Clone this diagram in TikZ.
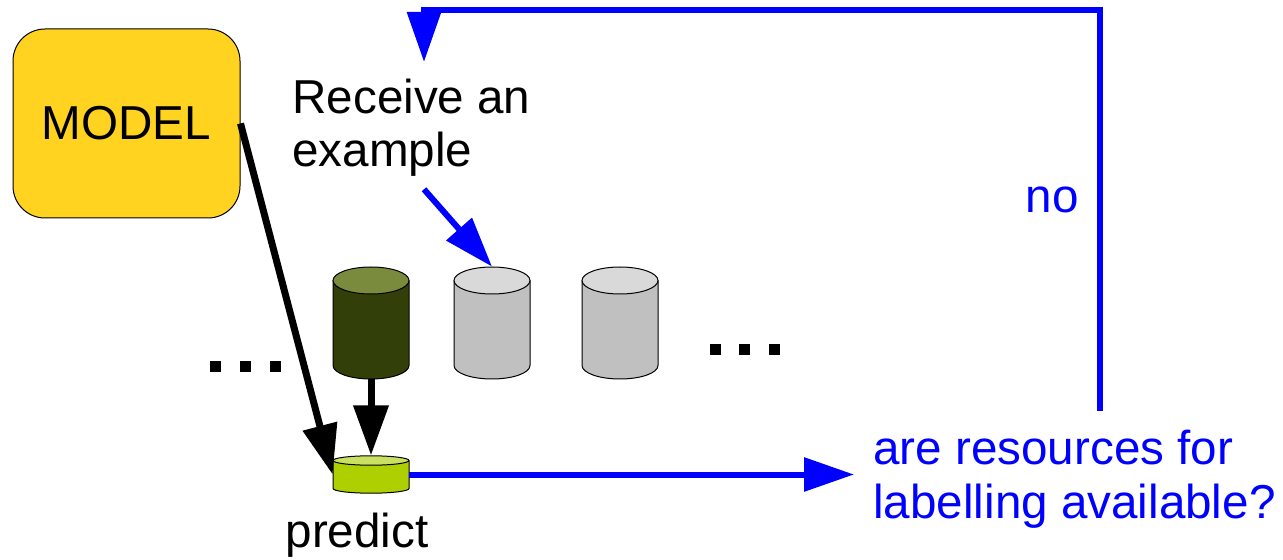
\documentclass[tikz,border=0pt]{standalone}
\usepackage{fontspec}
\setmainfont{Liberation Sans}
\usetikzlibrary{arrows.meta}

\definecolor{modelgold}{HTML}{FFD320}
\definecolor{linkblue}{HTML}{0000FF}
\definecolor{olivebody}{HTML}{333F08}
\definecolor{olivetop}{HTML}{7B8B3D}
\definecolor{greybody}{HTML}{C0C0C0}
\definecolor{greytop}{HTML}{D9D9D9}
\definecolor{limebody}{HTML}{AECF00}
\definecolor{limetop}{HTML}{C9E162}

\newcommand{\labelfont}{\fontsize{23.8}{26.75}\selectfont}

% A data drum: #1 name, #2 centre x, #3 top-ellipse centre y,
% #4 bottom-ellipse centre y, #5 ellipse half-height, #6 body fill, #7 lid fill
\newcommand{\datadrum}[7]{%
  \filldraw[fill=#6, draw=black, line width=0.5pt]
    ({#2-38},#3) -- ({#2-38},#4)
    arc[start angle=180, end angle=360, x radius=19pt, y radius={#5*0.5pt}]
    -- ({#2+38},#3);
  \filldraw[fill=#7, draw=black, line width=0.5pt]
    (#2,#3) ellipse[x radius=19pt, y radius={#5*0.5pt}];
  \node[inner sep=0pt, minimum width=38pt,
        minimum height={(#4-#3+2*#5)*0.5pt}] (#1) at (#2,{(#3+#4)/2}) {};
}

\tikzset{
  modelbox/.style={draw=black, line width=0.5pt, fill=modelgold,
    rounded corners=16pt, minimum width=113.5pt, minimum height=94.5pt,
    inner sep=0pt, font=\labelfont},
  plainlabel/.style={inner sep=0pt, font=\labelfont, align=left},
  bluelabel/.style={plainlabel, text=linkblue},
  flowblack/.style={draw=black, line width=3.5pt,
    -{Triangle[length=25pt, width=17pt]}},
  flowblue/.style={draw=linkblue, line width=3pt,
    -{Triangle[length=25pt, width=16.5pt]}},
  dotmark/.style={fill=black},
}

\begin{document}
\begin{tikzpicture}[x=0.5pt, y=-0.5pt]
  \useasboundingbox (0,0) rectangle (1283,560);

  % model
  \node[modelbox] (model) at (126.5,123.5) {MODEL};

  % stream of examples
  \datadrum{dark}{371}{280.5}{365.5}{13.5}{olivebody}{olivetop}
  \datadrum{grey1}{492}{280.5}{365.5}{13.5}{greybody}{greytop}
  \datadrum{grey2}{620}{280.5}{365.5}{13.5}{greybody}{greytop}
  \datadrum{small}{371}{460.5}{488.5}{4.7}{limebody}{limetop}

  % ellipsis marks on both sides of the stream
  \foreach \x in {210,240,270} \fill[dotmark] (\x,361) rectangle ++(11,11);
  \foreach \x in {710,739,769} \fill[dotmark] (\x,344) rectangle ++(11,11);

  % labels (base anchor sits on the last line)
  \node[plainlabel, anchor=base west, inner xsep=3pt, inner ysep=6pt] (recv)
    at (286,167) {Receive an\\example};
  \node[plainlabel, anchor=base] (pred) at (357,547) {predict};
  \node[bluelabel, anchor=base west, inner sep=9.5pt] (ask) at (854,518)
    {are resources for\\labelling available?};
  \node[bluelabel, anchor=base east] (no) at (1079,213) {no};

  % loop back corners
  \coordinate (loopright) at (1100,10);
  \coordinate (loopleft) at (424,10);
  \coordinate (looptip) at (424,62);

  % connectors
  \draw[flowblack] (model.east) -- (small.west);
  \draw[flowblack] (dark.south) -- (small.north);
  \draw[flowblue] (small.east) -- (small.east -| ask.west);
  \draw[flowblue] (recv.south -| looptip) -- (grey1.north);
  \draw[flowblue] (ask.north -| loopright) -- (loopright) -- (loopleft) -- (looptip);
\end{tikzpicture}
\end{document}
